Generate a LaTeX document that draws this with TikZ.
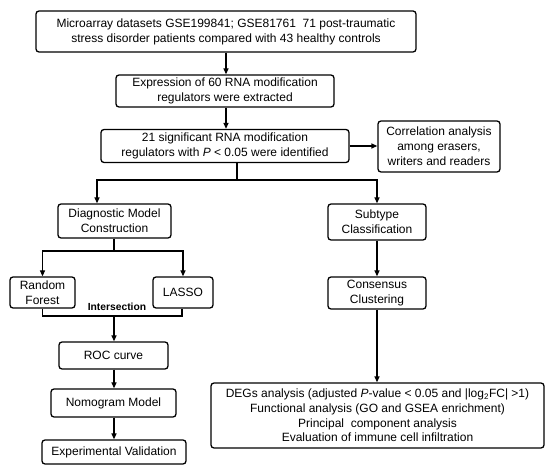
\documentclass[tikz,border=0pt]{standalone}
\usepackage{fontspec}
\setmainfont{Liberation Sans}
\usetikzlibrary{arrows.meta}
\begin{document}
\begin{tikzpicture}[x=1pt,y=-1pt,
  box/.style={draw, line width=1.3pt, rounded corners=3pt, align=center, inner sep=1pt, font=\fontsize{12}{15}\selectfont},
  conn/.style={line width=1.3pt},
  arr/.style={line width=1.3pt, -{Triangle[length=6pt,width=5pt]}}]
\useasboundingbox (0,0) rectangle (550,473);
\node[box, minimum width=380pt, minimum height=41pt] (b1) at (226,31.5) {Microarray datasets GSE199841; GSE81761\ \ 71 post-traumatic\\stress disorder patients compared with 43 healthy controls};
\node[box, minimum width=218pt, minimum height=32pt] (b2) at (225,91) {Expression of 60 RNA modification\\regulators were extracted};
\node[box, minimum width=248pt, minimum height=33pt] (b3) at (225,146) {21 significant RNA modification\\regulators with \textit{P} < 0.05 were identified};
\node[box, minimum width=122pt, minimum height=51pt] (corr) at (439,146.5) {Correlation analysis\\among erasers,\\writers and readers};
\node[box, minimum width=113pt, minimum height=34pt] (diag) at (114.5,221) {Diagnostic Model\\Construction};
\node[box, minimum width=98pt, minimum height=36pt] (sub) at (377,222) {Subtype\\Classification};
\node[box, minimum width=65pt, minimum height=31pt] (rf) at (42.5,292.5) {Random\\Forest};
\node[box, minimum width=60pt, minimum height=31pt] (lasso) at (183,292.5) {LASSO};
\node[font=\bfseries\fontsize{10.3}{12}\selectfont, inner sep=1pt] (inter) at (117,306.5) {Intersection};
\node[box, minimum width=98pt, minimum height=32pt] (cons) at (377,293) {Consensus\\Clustering};
\node[box, minimum width=109pt, minimum height=27pt] (roc) at (113.5,355.5) {ROC curve};
\node[box, minimum width=125pt, minimum height=28pt] (nomo) at (113.5,403) {Nomogram Model};
\node[box, minimum width=144pt, minimum height=24pt] (exp) at (114,452) {Experimental Validation};
\node[box, minimum width=333pt, minimum height=65pt, font=\fontsize{12}{14.8}\selectfont] (degs) at (377.5,415.5) {DEGs analysis (adjusted \textit{P}-value < 0.05 and |log\textsubscript{2}FC| >1)\\Functional analysis (GO and GSEA enrichment)\\Principal\ \ component analysis\\Evaluation of immune cell infiltration};
\coordinate (s1) at (237,180);
\coordinate (jd) at (114,251);
\coordinate (ji) at (114,316);
\draw[arr] (b1.south -| 226,0) -- (b2.north -| 226,0);
\draw[arr] (b2.south -| 226,0) -- (b3.north -| 226,0);
\draw[arr] (b3.east |- 0,146) -- (corr.west |- 0,146);
\draw[conn] (b3.south -| s1) -- (s1);
\draw[arr] (s1) -| (diag.north -| 97,0);
\draw[arr] (s1) -| (sub.north);
\draw[conn] (diag.south -| jd) -- (jd);
\draw[arr] (jd) -| (rf.north);
\draw[arr] (jd) -| (lasso.north);
\draw[conn] (rf.south) |- (ji) -| (lasso.south -| 182,0);
\draw[arr] (ji) -- (roc.north -| ji);
\draw[arr] (roc.south -| 114,0) -- (nomo.north -| 114,0);
\draw[arr] (nomo.south -| 114,0) -- (exp.north -| 114,0);
\draw[arr] (sub.south) -- (cons.north);
\draw[arr] (cons.south) -- (degs.north -| cons.south);
\end{tikzpicture}
\end{document}
